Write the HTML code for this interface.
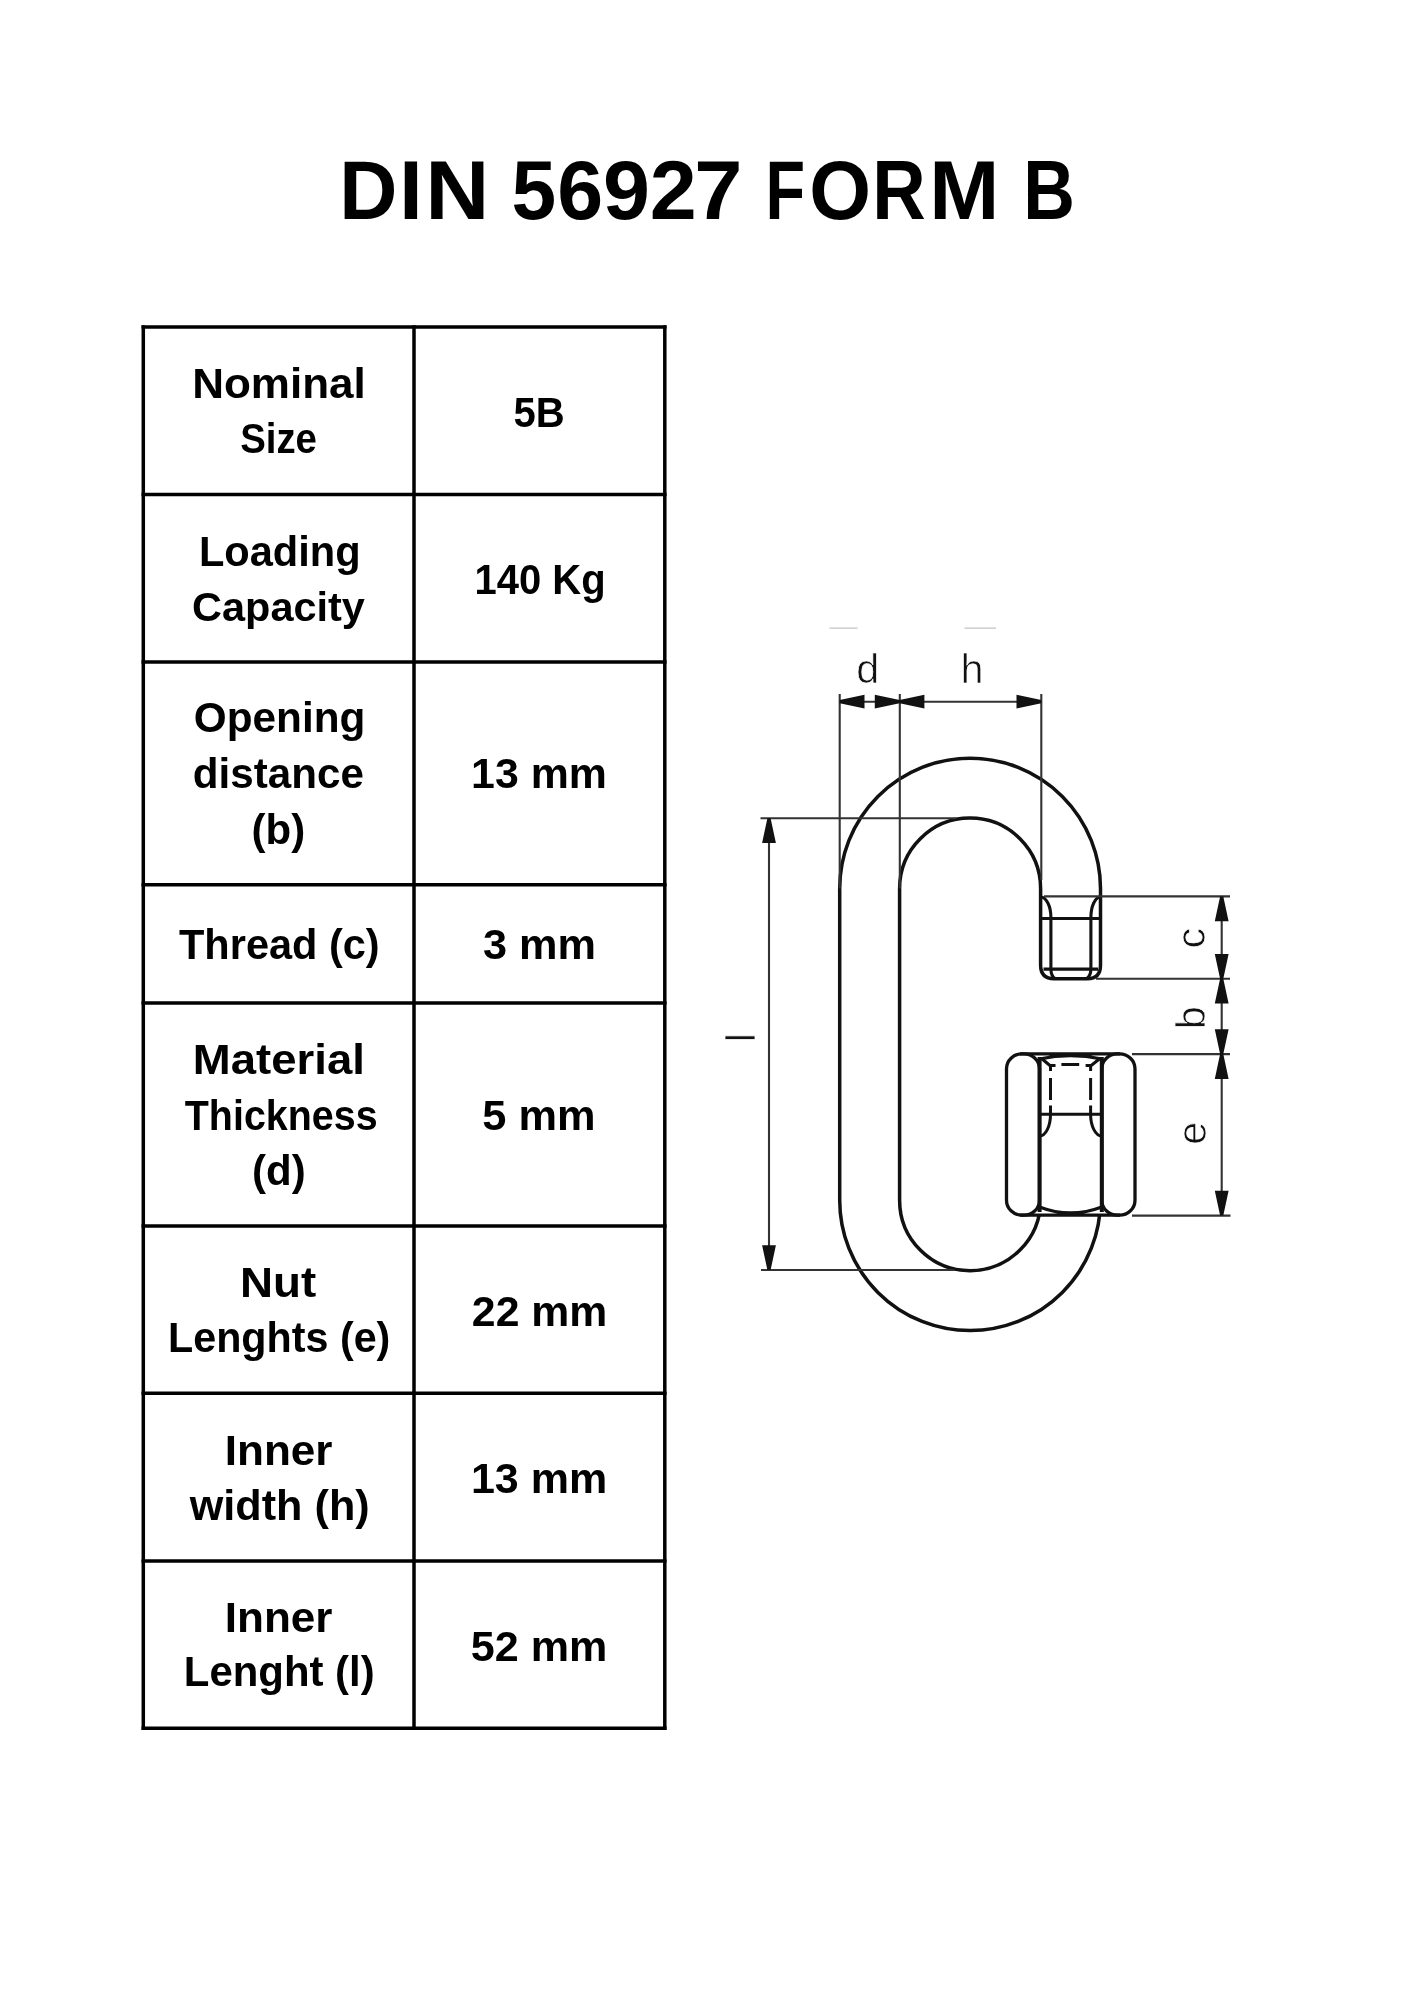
<!DOCTYPE html>
<html><head><meta charset="utf-8"><title>DIN 56927 FORM B</title>
<style>
html,body{margin:0;padding:0;background:#fff;}
body{width:1414px;height:2000px;overflow:hidden;font-family:"Liberation Sans",sans-serif;}
svg{display:block;will-change:transform;}
</style></head>
<body>
<svg width="1414" height="2000" viewBox="0 0 1414 2000">
<rect width="1414" height="2000" fill="#fff"/>
<g font-family="Liberation Sans" font-weight="bold" fill="#000">
<text transform="translate(339.18 219.00) scale(0.9700 1)" font-size="83.0">D</text>
<text transform="translate(398.90 219.00) scale(1.0333 1)" font-size="83.0">I</text>
<text transform="translate(425.27 219.00) scale(1.0708 1)" font-size="83.0">N</text>
<text transform="translate(511.60 219.00) scale(0.9683 1)" font-size="83.0">5</text>
<text transform="translate(557.22 219.00) scale(0.9950 1)" font-size="83.0">6</text>
<text transform="translate(602.95 219.00) scale(1.0175 1)" font-size="83.0">9</text>
<text transform="translate(649.65 219.00) scale(1.0175 1)" font-size="83.0">2</text>
<text transform="translate(694.33 219.00) scale(1.0436 1)" font-size="83.0">7</text>
<text transform="translate(765.51 219.00) scale(0.7810 1)" font-size="83.0">F</text>
<text transform="translate(809.13 219.00) scale(0.9569 1)" font-size="83.0">O</text>
<text transform="translate(872.35 219.00) scale(0.8923 1)" font-size="83.0">R</text>
<text transform="translate(929.32 219.00) scale(1.0138 1)" font-size="83.0">M</text>
<text transform="translate(1023.33 219.00) scale(0.8620 1)" font-size="83.0">B</text>
<text transform="translate(192.13 397.70) scale(1.0582 1)" font-size="41.6">Nominal</text>
<text transform="translate(240.18 452.60) scale(0.9222 1)" font-size="41.6">Size</text>
<text transform="translate(198.90 566.00) scale(1.0000 1)" font-size="41.6">Loading</text>
<text transform="translate(192.11 621.00) scale(0.9971 1)" font-size="41.6">Capacity</text>
<text transform="translate(193.76 732.40) scale(1.0177 1)" font-size="41.6">Opening</text>
<text transform="translate(192.87 787.60) scale(1.0139 1)" font-size="41.6">distance</text>
<text transform="translate(251.48 843.50) scale(1.0102 1)" font-size="41.6">(b)</text>
<text transform="translate(179.00 959.00) scale(0.9985 1)" font-size="41.6">Thread (c)</text>
<text transform="translate(192.82 1074.00) scale(1.0947 1)" font-size="41.6">Material</text>
<text transform="translate(184.80 1129.60) scale(0.9475 1)" font-size="41.6">Thickness</text>
<text transform="translate(251.98 1184.80) scale(1.0102 1)" font-size="41.6">(d)</text>
<text transform="translate(239.90 1296.60) scale(1.1000 1)" font-size="41.6">Nut</text>
<text transform="translate(168.02 1351.70) scale(0.9922 1)" font-size="41.6">Lenghts (e)</text>
<text transform="translate(224.72 1465.00) scale(1.0602 1)" font-size="41.6">Inner</text>
<text transform="translate(189.70 1519.80) scale(1.0392 1)" font-size="41.6">width (h)</text>
<text transform="translate(224.72 1632.10) scale(1.0602 1)" font-size="41.6">Inner</text>
<text transform="translate(183.78 1686.40) scale(1.0076 1)" font-size="41.6">Lenght (l)</text>
<text transform="translate(513.47 427.00) scale(0.9633 1)" font-size="41.6">5B</text>
<text transform="translate(474.51 593.60) scale(0.9618 1)" font-size="41.6">140 Kg</text>
<text transform="translate(471.11 788.20) scale(1.0302 1)" font-size="41.6">13 mm</text>
<text transform="translate(482.96 959.40) scale(1.0400 1)" font-size="41.6">3 mm</text>
<text transform="translate(482.32 1130.25) scale(1.0418 1)" font-size="41.6">5 mm</text>
<text transform="translate(471.87 1325.60) scale(1.0273 1)" font-size="41.6">22 mm</text>
<text transform="translate(470.90 1493.10) scale(1.0349 1)" font-size="41.6">13 mm</text>
<text transform="translate(470.83 1660.60) scale(1.0354 1)" font-size="41.6">52 mm</text>
</g>
<g stroke="#000" stroke-width="3.5" fill="none">
<line x1="141.55" y1="327" x2="666.55" y2="327"/>
<line x1="141.55" y1="494.5" x2="666.55" y2="494.5"/>
<line x1="141.55" y1="662" x2="666.55" y2="662"/>
<line x1="141.55" y1="884.7" x2="666.55" y2="884.7"/>
<line x1="141.55" y1="1003" x2="666.55" y2="1003"/>
<line x1="141.55" y1="1225.9" x2="666.55" y2="1225.9"/>
<line x1="141.55" y1="1393.2" x2="666.55" y2="1393.2"/>
<line x1="141.55" y1="1560.9" x2="666.55" y2="1560.9"/>
<line x1="141.55" y1="1728.2" x2="666.55" y2="1728.2"/>
<line x1="143.3" y1="325.25" x2="143.3" y2="1729.95"/>
<line x1="414" y1="325.25" x2="414" y2="1729.95"/>
<line x1="664.8" y1="325.25" x2="664.8" y2="1729.95"/>
</g>
<g id="diagram">
<path d="M 1040.6 1200.2 A 70.5 70.5 0 0 1 899.6 1200.2 V 888.6 A 70.5 70.5 0 0 1 1040.6 888.6 V 965 Q 1040.6 978.7 1054 978.7 H 1087.5 Q 1100.5 978.7 1100.5 965 V 888.6 A 130.4 130.4 0 0 0 839.7 888.6 V 1200.2 A 130.4 130.4 0 0 0 1100.5 1200.2" fill="none" stroke="#111" stroke-width="3.5"/>
<path d="M 1040.6 897 A 10.3 20.5 0 0 1 1050.9 917.5 M 1100.5 897 A 9.6 20.5 0 0 0 1090.9 917.5 M 1040.6 918.5 H 1100.5 M 1050.9 917.5 V 969 M 1090.9 917.5 V 969 M 1043.5 969.1 H 1098 M 1050.9 969 Q 1051 976 1055 978.5 M 1090.9 969 Q 1090.8 976 1086.5 978.5" fill="none" stroke="#111" stroke-width="3.1"/>
<rect x="1006" y="1053" width="130" height="163" fill="#fff"/>
<rect x="1006.5" y="1053.8" width="33" height="161.4" rx="15.5" ry="15" fill="#fff" stroke="#111" stroke-width="3.3"/>
<rect x="1101.8" y="1053.8" width="33.2" height="161.4" rx="15.5" ry="15" fill="#fff" stroke="#111" stroke-width="3.3"/>
<path d="M 1020 1053.8 H 1120 M 1020 1215.2 H 1120 M 1039.5 1059 Q 1070.5 1052 1101.8 1059 M 1039.5 1207 Q 1070.5 1219 1101.8 1207" fill="none" stroke="#111" stroke-width="3.3"/>
<path d="M 1039.6 1057 V 1212 M 1101.8 1057 V 1212" fill="none" stroke="#111" stroke-width="4"/>
<path d="M 1050.5 1066 V 1071 M 1050.5 1078 V 1100 M 1050.5 1105.6 V 1114 M 1090.6 1066 V 1071 M 1090.6 1078 V 1100 M 1090.6 1105.6 V 1114 M 1061.4 1064.4 H 1079.2 M 1050.5 1065.5 H 1055.5 M 1085.6 1065.5 H 1090.6 M 1041 1058 L 1050.5 1066 M 1100.5 1058 L 1090.6 1066" fill="none" stroke="#111" stroke-width="3"/>
<path d="M 1039.6 1114.3 H 1101.8 M 1050.5 1114.3 A 10.9 21.7 0 0 1 1039.6 1136 M 1090.6 1114.3 A 11.2 21.7 0 0 0 1101.8 1136" fill="none" stroke="#111" stroke-width="3"/>
<path d="M 839.7 701.7 H 1041.3 M 839.7 694 V 888.6 M 899.8 694 V 888.6 M 1041.3 694 V 880 M 769 818.2 V 1270 M 760.5 818.2 H 956 M 761 1270 H 954 M 1221.7 896.4 V 1215.6 M 1044 896.4 H 1230 M 1096 978.7 H 1230 M 1132 1054.1 H 1230 M 1132 1215.6 H 1230.5" fill="none" stroke="#333" stroke-width="2.1"/>
<path d="M 829.5 628.2 H 857.6 M 964.5 628.2 H 996" stroke="#c4c4c4" stroke-width="1.3" fill="none"/>
<path d="M 839.7 700.1 L 864.5 694.8 L 864.5 708.6 L 839.7 703.3000000000001 Z M 899.6 700.1 L 874.8 694.8 L 874.8 708.6 L 899.6 703.3000000000001 Z M 899.6 700.1 L 924.4 694.8 L 924.4 708.6 L 899.6 703.3000000000001 Z M 1041.3 700.1 L 1016.5 694.8 L 1016.5 708.6 L 1041.3 703.3000000000001 Z M 767.4 818.2 L 762.1 843.0 L 775.9 843.0 L 770.6 818.2 Z M 767.4 1270 L 762.1 1245.2 L 775.9 1245.2 L 770.6 1270 Z M 1220.1000000000001 896.4 L 1214.8 921.2 L 1228.6 921.2 L 1223.3 896.4 Z M 1220.1000000000001 978.7 L 1214.8 953.9 L 1228.6 953.9 L 1223.3 978.7 Z M 1220.1000000000001 978.7 L 1214.8 1003.5 L 1228.6 1003.5 L 1223.3 978.7 Z M 1220.1000000000001 1054.1 L 1214.8 1029.3 L 1228.6 1029.3 L 1223.3 1054.1 Z M 1220.1000000000001 1054.1 L 1214.8 1078.9 L 1228.6 1078.9 L 1223.3 1054.1 Z M 1220.1000000000001 1215.6 L 1214.8 1190.8 L 1228.6 1190.8 L 1223.3 1215.6 Z" fill="#111" stroke="none"/>
<g font-family="Liberation Sans" font-size="41.4" fill="#111" stroke="#fff" stroke-width="0.7"><text x="856.2" y="683.2">d</text><text x="960.6" y="683">h</text><text transform="translate(1205.4 948.4) rotate(-90)">c</text><text transform="translate(1205.4 1029.3) rotate(-90)">b</text><text transform="translate(1205.5 1144.8) rotate(-90)">e</text><text transform="translate(754.6 1042.3) rotate(-90)">l</text></g>
</g>
</svg>
</body></html>
